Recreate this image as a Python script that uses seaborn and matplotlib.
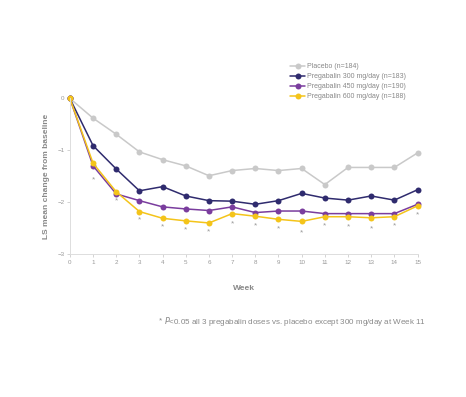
import pandas as pd
import seaborn as sns
import matplotlib.pyplot as plt

# LS mean change from baseline by week
weeks = list(range(16))
placebo = [0, -0.38, -0.69, -1.03, -1.18, -1.30, -1.49, -1.39, -1.35, -1.39, -1.35, -1.66, -1.33, -1.33, -1.33, -1.05]
pgb_300 = [0, -0.91, -1.36, -1.78, -1.70, -1.88, -1.97, -1.98, -2.04, -1.97, -1.83, -1.92, -1.96, -1.88, -1.96, -1.76]
pgb_450 = [0, -1.30, -1.84, -1.97, -2.09, -2.13, -2.16, -2.09, -2.20, -2.17, -2.17, -2.22, -2.22, -2.22, -2.22, -2.04]
pgb_600 = [0, -1.25, -1.80, -2.18, -2.31, -2.36, -2.40, -2.22, -2.27, -2.33, -2.37, -2.28, -2.28, -2.30, -2.28, -2.07]

# significance asterisks
star_weeks = list(range(1, 16))
star_y = [-1.57, -1.97, -2.34, -2.47, -2.53, -2.58, -2.41, -2.45, -2.51, -2.60, -2.45, -2.48, -2.51, -2.45, -2.25]

labels = ["Placebo (n=184)", "Pregabalin 300 mg/day (n=183)",
          "Pregabalin 450 mg/day (n=190)", "Pregabalin 600 mg/day (n=188)"]
colors = ["#c9c9c9", "#2f2b6e", "#7a3d9e", "#f4c41a"]

df = pd.DataFrame({"week": weeks * 4,
                   "value": placebo + pgb_300 + pgb_450 + pgb_600,
                   "group": [l for l in labels for _ in weeks]})

sns.set_style("white")
plt.rcParams["font.family"] = ["Liberation Sans", "DejaVu Sans"]

fig = plt.figure(figsize=(4.66, 3.97), dpi=100)
ax = fig.add_axes([0.150, 0.360, 0.746, 0.392])

sns.lineplot(data=df, x="week", y="value", hue="group", hue_order=labels,
             palette=colors, marker="o", markersize=4.3, markeredgewidth=0,
             linewidth=1.1, ax=ax, legend=True)
for line in ax.lines:
    line.set_clip_on(False)

for wx, wy in zip(star_weeks, star_y):
    ax.text(wx, wy, "*", fontsize=6, color="#999999", ha="center", va="center")

ax.set_xlim(0, 15)
ax.set_ylim(-3, 0)
ax.set_xticks(range(16))
ax.set_yticks([0, -1, -2, -3])
ax.tick_params(axis="both", labelsize=4.5, colors="#cccccc", labelcolor="#999999",
               length=2, width=0.6, pad=2, direction="out", left=True, bottom=True)
for side in ["top", "right"]:
    ax.spines[side].set_visible(False)
for side in ["left", "bottom"]:
    ax.spines[side].set_color("#dddddd")
    ax.spines[side].set_linewidth(0.7)

ax.set_xlabel("Week", fontsize=6, fontweight="bold", color="#888888", labelpad=15)
ax.set_ylabel("LS mean change from baseline", fontsize=6, fontweight="bold",
              color="#888888", labelpad=5)

leg = ax.legend(loc="upper left", bbox_to_anchor=(0.625, 1.245), frameon=False,
                fontsize=5, labelcolor="#888888", handlelength=2.2,
                handletextpad=0.3, labelspacing=0.45, borderaxespad=0)

fig.text(0.341, 0.191, "* ", fontsize=5.8, color="#888888", va="center")
fig.text(0.351, 0.191, "$\\it{P}$<0.05 all 3 pregabalin doses vs. placebo except 300 mg/day at Week 11",
         fontsize=5.8, color="#888888", va="center")

fig.savefig("out.png", dpi=100)
